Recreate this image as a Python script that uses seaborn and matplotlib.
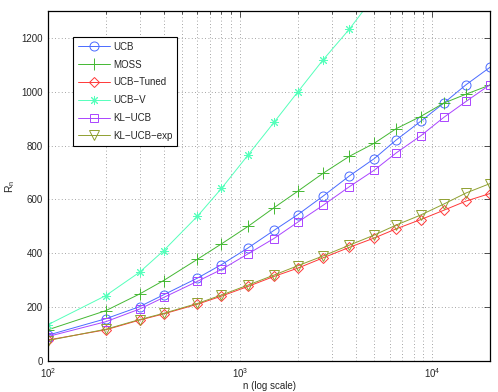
import matplotlib
matplotlib.use("Agg")
import matplotlib.pyplot as plt
import seaborn as sns
import numpy as np
import pandas as pd

n = [100, 200, 300, 400, 600, 800, 1100, 1500, 2000, 2700, 3700, 5000,
     6500, 8700, 11500, 15000, 20000]

ucb = [96, 157, 202, 246, 308, 358, 420, 485, 544, 612, 687, 752,
       821, 890, 958, 1026, 1091]
moss = [116, 187, 249, 299, 378, 435, 500, 569, 631, 697, 760, 809,
        863, 908, 958, 991, 1025]
ucb_tuned = [78, 116, 152, 175, 211, 241, 277, 314, 345, 383, 422, 457,
             491, 525, 560, 594, 622]
ucb_v = [135, 243, 330, 410, 538, 641, 765, 886, 1000, 1118, 1232, 1355,
         1480, 1610, 1740, 1870, 2000]
kl_ucb = [91, 146, 193, 236, 296, 340, 398, 455, 516, 578, 647, 709,
          773, 836, 905, 964, 1026]
kl_ucb_exp = [76, 118, 154, 177, 214, 245, 282, 319, 354, 390, 430, 468,
              505, 542, 583, 624, 659]

names = ["UCB", "MOSS", "UCB\u2212Tuned", "UCB\u2212V", "KL\u2212UCB", "KL\u2212UCB\u2212exp"]
series = [ucb, moss, ucb_tuned, ucb_v, kl_ucb, kl_ucb_exp]
colors = ["#4a6bff", "#44b833", "#ff3838", "#55ffbb", "#aa44ff", "#8fa030"]
markers = ["o", "+", "D", (8, 2, 0), "s", "v"]
msizes = [6.5, 8, 5.5, 6.5, 5.5, 7.5]

sns.set_style("white")
plt.rcParams["font.family"] = ["Liberation Sans", "DejaVu Sans"]
plt.rcParams["font.size"] = 7

fig = plt.figure(figsize=(4.98, 3.92), dpi=100)
ax = fig.add_axes([48 / 498, 31 / 392, 442 / 498, 350 / 392])

for name, vals, c, m, ms in zip(names, series, colors, markers, msizes):
    df = pd.DataFrame({"n": n, "R": vals})
    sns.lineplot(data=df, x="n", y="R", ax=ax, color=c, marker=m,
                 markersize=ms, markerfacecolor="none", markeredgecolor=c,
                 markeredgewidth=0.7, linewidth=0.7, label=name)

ax.set_xscale("log")
ax.set_xlim(100, 20000)
ax.set_ylim(0, 1300)
ax.set_yticks([0, 200, 400, 600, 800, 1000, 1200])

ax.grid(True, which="major", axis="both", linestyle=(0, (1, 3)), color="#888888", linewidth=0.6)
ax.grid(True, which="minor", axis="x", linestyle=(0, (1, 3)), color="#888888", linewidth=0.6)
ax.tick_params(which="both", direction="in", top=True, right=True, labelsize=7,
               width=0.6, color="#333333")
ax.tick_params(which="major", length=4)
ax.tick_params(which="minor", length=2)
for s in ax.spines.values():
    s.set_color("black")
    s.set_linewidth(0.9)

ax.set_xlabel("n (log scale)", fontsize=7, labelpad=1)
ax.set_ylabel(r"R$_\mathregular{n}$", fontsize=7.5, labelpad=3)

leg = ax.legend(loc="upper left", bbox_to_anchor=(25 / 442, 324 / 350), borderaxespad=0,
                fontsize=7, fancybox=False, framealpha=1, edgecolor="black",
                handlelength=3.3, handletextpad=0.3, labelspacing=0.8,
                borderpad=0.5)
leg.get_frame().set_linewidth(0.8)

fig.savefig("out.png", dpi=100)
